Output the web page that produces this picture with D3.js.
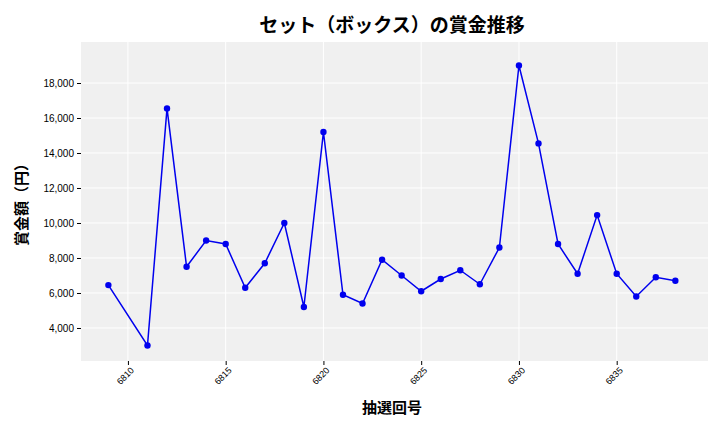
<!DOCTYPE html>
<html><head><meta charset="utf-8">
<script src="https://cdn.jsdelivr.net/npm/d3@7"></script>
<style>body{margin:0;background:#fff;font-family:"Noto Sans CJK JP","DejaVu Sans",sans-serif;}</style>
</head><body>
<svg id="c" width="720" height="432"></svg>
<script>
// draw numbers and prizes
const draws = [6809,6811,6812,6813,6814,6815,6816,6817,6818,6819,6820,6821,6822,6823,6824,6825,6826,6827,6828,6829,6830,6831,6832,6833,6834,6835,6836,6837,6838];
const prizes = [6450,3000,16550,7500,9000,8800,6300,7700,10000,5200,15200,5900,5400,7900,7000,6100,6800,7300,6500,8600,19000,14550,8800,7100,10450,7100,5800,6900,6700];
const xTicks = [6810,6815,6820,6825,6830,6835];
const yTicks = [4000,6000,8000,10000,12000,14000,16000,18000];

const svg = d3.select("#c");
const L = 81, R = 708, T = 42, B = 361;

const x = d3.scaleLinear().domain([6807.6, 6839.67]).range([L, R]);
const y = d3.scaleLinear().domain([2114, 20343]).range([B, T]);

svg.append("rect").attr("x", L).attr("y", T).attr("width", R - L).attr("height", B - T).attr("fill", "#f0f0f0");

svg.append("g").selectAll("line").data(yTicks).enter().append("line")
  .attr("x1", L).attr("x2", R).attr("y1", d => y(d)).attr("y2", d => y(d))
  .attr("stroke", "#fff").attr("stroke-width", 1);
svg.append("g").selectAll("line").data(xTicks).enter().append("line")
  .attr("y1", T).attr("y2", B).attr("x1", d => x(d)).attr("x2", d => x(d))
  .attr("stroke", "#fff").attr("stroke-width", 1);

const xa = svg.append("g").attr("transform", `translate(0,${B})`)
  .call(d3.axisBottom(x).tickValues(xTicks).tickFormat(d3.format("d")).tickSize(4));
xa.select(".domain").remove();
xa.selectAll("text").attr("font-size", 9).attr("transform", "rotate(-45)")
  .attr("text-anchor", "end").attr("dx", "-0.3em").attr("dy", "0.5em");

const ya = svg.append("g").attr("transform", `translate(${L},0)`)
  .call(d3.axisLeft(y).tickValues(yTicks).tickFormat(d3.format(",")).tickSize(4));
ya.select(".domain").remove();
ya.selectAll("text").attr("font-size", 10);

const pts = draws.map((d, i) => [d, prizes[i]]);
svg.append("path").datum(pts)
  .attr("d", d3.line().x(d => x(d[0])).y(d => y(d[1])))
  .attr("fill", "none").attr("stroke", "#0000ee").attr("stroke-width", 1.5);
svg.append("g").selectAll("circle").data(pts).enter().append("circle")
  .attr("cx", d => x(d[0])).attr("cy", d => y(d[1])).attr("r", 3.2).attr("fill", "#0000ee");

svg.append("text").attr("x", 392).attr("y", 32).attr("text-anchor", "middle")
  .attr("font-size", 19).attr("font-weight", "bold").text("セット（ボックス）の賞金推移");
svg.append("text").attr("x", 392).attr("y", 413).attr("text-anchor", "middle")
  .attr("font-size", 15).attr("font-weight", "bold").text("抽選回号");
svg.append("text").attr("transform", "translate(27,201) rotate(-90)").attr("text-anchor", "middle")
  .attr("font-size", 15).attr("font-weight", "bold").text("賞金額（円）");
</script>
</body></html>
